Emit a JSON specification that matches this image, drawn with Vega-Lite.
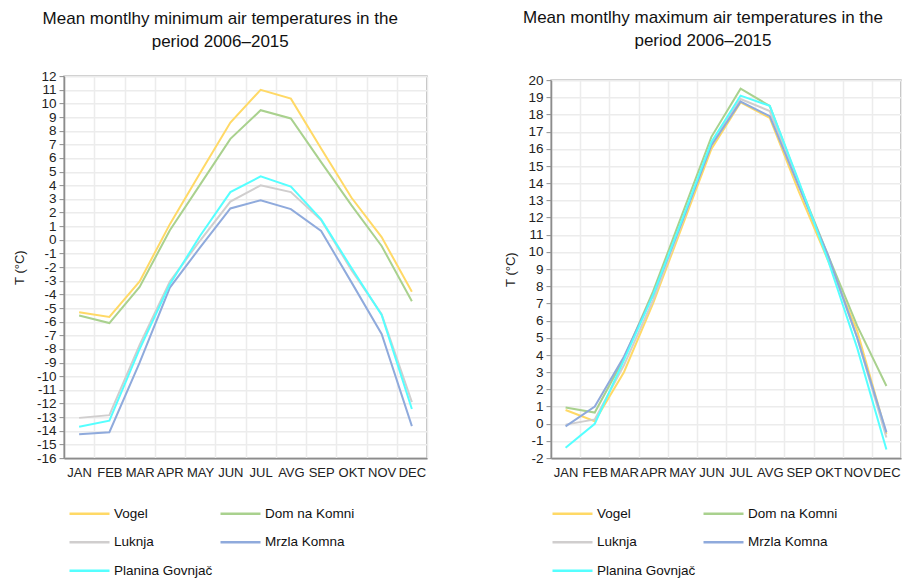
{
  "$schema": "https://vega.github.io/schema/vega-lite/v6.json",
  "padding": {"left": 12, "top": 8, "right": 0, "bottom": 0},
  "spacing": 76,
  "center": true,
  "background": "white",
  "config": {
    "font": "Liberation Sans",
    "view": {"stroke": "#a6a6a6", "strokeWidth": 1.5},
    "title": {"fontSize": 17, "fontWeight": "normal", "color": "#111111", "lineHeight": 23, "frame": "bounds", "anchor": "middle"},
    "axis": {"labelColor": "#222222", "titleColor": "#222222", "gridColor": "#ececec", "gridWidth": 1.5, "tickColor": "#8c8c8c", "domainColor": "#8c8c8c", "domainWidth": 1.5},
    "axisX": {"title": null, "labelAngle": 0, "tickBand": "extent", "grid": true, "ticks": false, "labelFontSize": 13, "labelPadding": 8, "labelOverlap": false},
    "axisY": {"labelFontSize": 13.5, "tickSize": 5, "labelPadding": 3, "labelOverlap": false, "labelExpr": "'' + datum.value", "titleFontSize": 13, "titleFontWeight": "normal", "titlePadding": 10},
    "legend": {"orient": "bottom", "direction": "horizontal", "columns": 2, "symbolType": "M-1,0H3", "symbolSize": 400, "symbolStrokeWidth": 2.5, "labelOffset": 23, "labelFontSize": 13.5, "labelColor": "#111111", "rowPadding": 10.5, "columnPadding": 2, "offset": 20, "title": null}
  },
  "resolve": {"legend": {"color": "independent"}, "scale": {"y": "independent"}},
  "datasets": {
    "minimum": [
      {"station": "Vogel", "month": "JAN", "t": -5.3}, {"station": "Vogel", "month": "FEB", "t": -5.65}, {"station": "Vogel", "month": "MAR", "t": -3.05}, {"station": "Vogel", "month": "APR", "t": 1.15}, {"station": "Vogel", "month": "MAY", "t": 4.9}, {"station": "Vogel", "month": "JUN", "t": 8.6}, {"station": "Vogel", "month": "JUL", "t": 11.0}, {"station": "Vogel", "month": "AVG", "t": 10.35}, {"station": "Vogel", "month": "SEP", "t": 6.7}, {"station": "Vogel", "month": "OKT", "t": 3.1}, {"station": "Vogel", "month": "NOV", "t": 0.2}, {"station": "Vogel", "month": "DEC", "t": -3.8},
      {"station": "Dom na Komni", "month": "JAN", "t": -5.55}, {"station": "Dom na Komni", "month": "FEB", "t": -6.1}, {"station": "Dom na Komni", "month": "MAR", "t": -3.45}, {"station": "Dom na Komni", "month": "APR", "t": 0.7}, {"station": "Dom na Komni", "month": "MAY", "t": 4.05}, {"station": "Dom na Komni", "month": "JUN", "t": 7.4}, {"station": "Dom na Komni", "month": "JUL", "t": 9.5}, {"station": "Dom na Komni", "month": "AVG", "t": 8.9}, {"station": "Dom na Komni", "month": "SEP", "t": 5.7}, {"station": "Dom na Komni", "month": "OKT", "t": 2.55}, {"station": "Dom na Komni", "month": "NOV", "t": -0.45}, {"station": "Dom na Komni", "month": "DEC", "t": -4.5},
      {"station": "Luknja", "month": "JAN", "t": -13.05}, {"station": "Luknja", "month": "FEB", "t": -12.85}, {"station": "Luknja", "month": "MAR", "t": -7.7}, {"station": "Luknja", "month": "APR", "t": -3.05}, {"station": "Luknja", "month": "MAY", "t": -0.05}, {"station": "Luknja", "month": "JUN", "t": 2.8}, {"station": "Luknja", "month": "JUL", "t": 4.0}, {"station": "Luknja", "month": "AVG", "t": 3.5}, {"station": "Luknja", "month": "SEP", "t": 1.45}, {"station": "Luknja", "month": "OKT", "t": -2.2}, {"station": "Luknja", "month": "NOV", "t": -5.45}, {"station": "Luknja", "month": "DEC", "t": -11.9},
      {"station": "Mrzla Komna", "month": "JAN", "t": -14.25}, {"station": "Mrzla Komna", "month": "FEB", "t": -14.1}, {"station": "Mrzla Komna", "month": "MAR", "t": -9.0}, {"station": "Mrzla Komna", "month": "APR", "t": -3.5}, {"station": "Mrzla Komna", "month": "MAY", "t": -0.55}, {"station": "Mrzla Komna", "month": "JUN", "t": 2.3}, {"station": "Mrzla Komna", "month": "JUL", "t": 2.9}, {"station": "Mrzla Komna", "month": "AVG", "t": 2.25}, {"station": "Mrzla Komna", "month": "SEP", "t": 0.65}, {"station": "Mrzla Komna", "month": "OKT", "t": -3.1}, {"station": "Mrzla Komna", "month": "NOV", "t": -6.9}, {"station": "Mrzla Komna", "month": "DEC", "t": -13.65},
      {"station": "Planina Govnjač", "month": "JAN", "t": -13.7}, {"station": "Planina Govnjač", "month": "FEB", "t": -13.25}, {"station": "Planina Govnjač", "month": "MAR", "t": -8.0}, {"station": "Planina Govnjač", "month": "APR", "t": -3.25}, {"station": "Planina Govnjač", "month": "MAY", "t": 0.3}, {"station": "Planina Govnjač", "month": "JUN", "t": 3.5}, {"station": "Planina Govnjač", "month": "JUL", "t": 4.65}, {"station": "Planina Govnjač", "month": "AVG", "t": 3.9}, {"station": "Planina Govnjač", "month": "SEP", "t": 1.5}, {"station": "Planina Govnjač", "month": "OKT", "t": -2.05}, {"station": "Planina Govnjač", "month": "NOV", "t": -5.5}, {"station": "Planina Govnjač", "month": "DEC", "t": -12.4}
    ],
    "maximum": [
      {"station": "Vogel", "month": "JAN", "t": 0.8}, {"station": "Vogel", "month": "FEB", "t": 0.15}, {"station": "Vogel", "month": "MAR", "t": 3.0}, {"station": "Vogel", "month": "APR", "t": 7.0}, {"station": "Vogel", "month": "MAY", "t": 11.5}, {"station": "Vogel", "month": "JUN", "t": 16.0}, {"station": "Vogel", "month": "JUL", "t": 18.7}, {"station": "Vogel", "month": "AVG", "t": 17.8}, {"station": "Vogel", "month": "SEP", "t": 13.5}, {"station": "Vogel", "month": "OKT", "t": 9.5}, {"station": "Vogel", "month": "NOV", "t": 5.4}, {"station": "Vogel", "month": "DEC", "t": -0.6},
      {"station": "Dom na Komni", "month": "JAN", "t": 0.95}, {"station": "Dom na Komni", "month": "FEB", "t": 0.65}, {"station": "Dom na Komni", "month": "MAR", "t": 3.8}, {"station": "Dom na Komni", "month": "APR", "t": 7.7}, {"station": "Dom na Komni", "month": "MAY", "t": 12.2}, {"station": "Dom na Komni", "month": "JUN", "t": 16.7}, {"station": "Dom na Komni", "month": "JUL", "t": 19.5}, {"station": "Dom na Komni", "month": "AVG", "t": 18.5}, {"station": "Dom na Komni", "month": "SEP", "t": 14.0}, {"station": "Dom na Komni", "month": "OKT", "t": 9.8}, {"station": "Dom na Komni", "month": "NOV", "t": 5.7}, {"station": "Dom na Komni", "month": "DEC", "t": 2.2},
      {"station": "Luknja", "month": "JAN", "t": -0.05}, {"station": "Luknja", "month": "FEB", "t": 0.25}, {"station": "Luknja", "month": "MAR", "t": 3.4}, {"station": "Luknja", "month": "APR", "t": 7.2}, {"station": "Luknja", "month": "MAY", "t": 11.7}, {"station": "Luknja", "month": "JUN", "t": 16.3}, {"station": "Luknja", "month": "JUL", "t": 18.9}, {"station": "Luknja", "month": "AVG", "t": 18.2}, {"station": "Luknja", "month": "SEP", "t": 13.9}, {"station": "Luknja", "month": "OKT", "t": 9.7}, {"station": "Luknja", "month": "NOV", "t": 5.0}, {"station": "Luknja", "month": "DEC", "t": -0.8},
      {"station": "Mrzla Komna", "month": "JAN", "t": -0.15}, {"station": "Mrzla Komna", "month": "FEB", "t": 1.0}, {"station": "Mrzla Komna", "month": "MAR", "t": 3.9}, {"station": "Mrzla Komna", "month": "APR", "t": 7.5}, {"station": "Mrzla Komna", "month": "MAY", "t": 11.8}, {"station": "Mrzla Komna", "month": "JUN", "t": 16.2}, {"station": "Mrzla Komna", "month": "JUL", "t": 18.75}, {"station": "Mrzla Komna", "month": "AVG", "t": 17.9}, {"station": "Mrzla Komna", "month": "SEP", "t": 13.8}, {"station": "Mrzla Komna", "month": "OKT", "t": 9.8}, {"station": "Mrzla Komna", "month": "NOV", "t": 5.0}, {"station": "Mrzla Komna", "month": "DEC", "t": -0.5},
      {"station": "Planina Govnjač", "month": "JAN", "t": -1.4}, {"station": "Planina Govnjač", "month": "FEB", "t": 0.0}, {"station": "Planina Govnjač", "month": "MAR", "t": 3.7}, {"station": "Planina Govnjač", "month": "APR", "t": 7.5}, {"station": "Planina Govnjač", "month": "MAY", "t": 11.9}, {"station": "Planina Govnjač", "month": "JUN", "t": 16.4}, {"station": "Planina Govnjač", "month": "JUL", "t": 19.1}, {"station": "Planina Govnjač", "month": "AVG", "t": 18.5}, {"station": "Planina Govnjač", "month": "SEP", "t": 14.1}, {"station": "Planina Govnjač", "month": "OKT", "t": 9.5}, {"station": "Planina Govnjač", "month": "NOV", "t": 4.4}, {"station": "Planina Govnjač", "month": "DEC", "t": -1.5}
    ]
  },
  "hconcat": [
    {
      "title": {"text": ["Mean montlhy minimum air temperatures in the", "period 2006–2015"], "offset": 18},
      "width": 363,
      "height": 382,
      "data": {"name": "minimum"},
      "mark": {"type": "line", "strokeWidth": 2},
      "encoding": {
        "x": {"field": "month", "type": "ordinal", "sort": ["JAN", "FEB", "MAR", "APR", "MAY", "JUN", "JUL", "AVG", "SEP", "OKT", "NOV", "DEC"], "scale": {"type": "band", "paddingInner": 0, "paddingOuter": 0}},
        "y": {"field": "t", "type": "quantitative", "scale": {"domain": [-16, 12], "nice": false, "zero": false}, "axis": {"tickCount": 28, "title": "T (°C)"}},
        "color": {"field": "station", "type": "nominal", "scale": {"domain": ["Vogel", "Dom na Komni", "Luknja", "Mrzla Komna", "Planina Govnjač"], "range": ["#FFD966", "#A9D18E", "#D0CECE", "#8FAADC", "#55FFFF"]}, "legend": {"padding": 4, "offset": 19}},
        "order": {"value": null}
      }
    },
    {
      "title": {"text": ["Mean montlhy maximum air temperatures in the", "period 2006–2015"], "offset": 23},
      "width": 350,
      "height": 378,
      "data": {"name": "maximum"},
      "mark": {"type": "line", "strokeWidth": 2},
      "encoding": {
        "x": {"field": "month", "type": "ordinal", "sort": ["JAN", "FEB", "MAR", "APR", "MAY", "JUN", "JUL", "AVG", "SEP", "OKT", "NOV", "DEC"], "scale": {"type": "band", "paddingInner": 0, "paddingOuter": 0}},
        "y": {"field": "t", "type": "quantitative", "scale": {"domain": [-2, 20], "nice": false, "zero": false}, "axis": {"tickCount": 22, "title": "T (°C)"}},
        "color": {"field": "station", "type": "nominal", "scale": {"domain": ["Vogel", "Dom na Komni", "Luknja", "Mrzla Komna", "Planina Govnjač"], "range": ["#FFD966", "#A9D18E", "#D0CECE", "#8FAADC", "#55FFFF"]}, "legend": {"padding": 0, "offset": 23}},
        "order": {"value": null}
      }
    }
  ]
}
